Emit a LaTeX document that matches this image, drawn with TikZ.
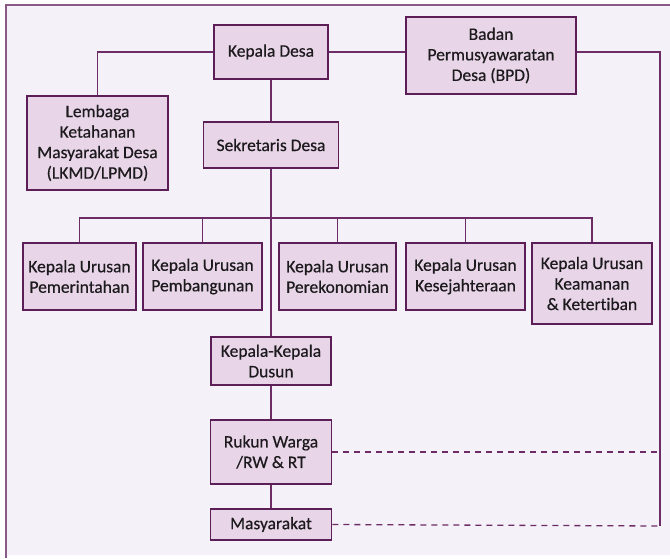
\documentclass[tikz,border=0pt]{standalone}
\usepackage{fontspec}
\setmainfont{Carlito}[Ligatures=NoCommon,FakeBold=0.5]
\usetikzlibrary{positioning}
\definecolor{bgc}{HTML}{F4F1F8}
\definecolor{boxfill}{HTML}{E8D5E8}
\definecolor{boxline}{HTML}{5C1E57}
\definecolor{conline}{HTML}{6E2C66}
\definecolor{frameline}{HTML}{8A5A86}
\definecolor{ink}{HTML}{1C1A1C}
\begin{document}
\begin{tikzpicture}[x=1pt,y=-1pt]
                    \tikzstyle{every node}+=[inner sep=0pt]
                    \tikzstyle{unit}=[draw=boxline,fill=boxfill,text=ink,line width=1.6pt,align=center,font=\fontsize{17.5}{20.5}\selectfont]
                    \tikzstyle{link}=[draw=conline,line width=1.3pt]
                    \useasboundingbox (0,0) rectangle (670,558);
                    \fill [bgc] (6,5) rectangle (670,555);
                    \draw [frameline, line width=1.8pt] (6,558) -- (6,5) -- (670,5);
                    \node [unit, minimum width=114pt, minimum height=54pt] (kd) at (271,52) {Kepala Desa};
                    \node [unit, minimum width=170pt, minimum height=77pt] (bpd) at (491,55.5) {Badan\\Permusyawaratan\\Desa (BPD)};
                    \node [unit, minimum width=141pt, minimum height=94pt] (lkmd) at (97.5,143) {Lembaga\\Ketahanan\\Masyarakat Desa\\(LKMD/LPMD)};
                    \node [unit, minimum width=135pt, minimum height=46pt] (sd) at (271,145) {Sekretaris Desa};
                    \node [unit, minimum width=113pt, minimum height=67pt] (ku1) at (79.5,276.5) {Kepala Urusan\\Pemerintahan};
                    \node [unit, minimum width=119pt, minimum height=67pt] (ku2) at (202.5,276.5) {Kepala Urusan\\Pembangunan};
                    \node [unit, minimum width=117pt, minimum height=67pt] (ku3) at (337.5,276.5) {Kepala Urusan\\Perekonomian};
                    \node [unit, minimum width=119pt, minimum height=67pt] (ku4) at (465.5,276.5) {Kepala Urusan\\Kesejahteraan};
                    \node [unit, minimum width=120pt, minimum height=81pt] (ku5) at (592,283.5) {Kepala Urusan\\Keamanan\\\& Ketertiban};
                    \node [unit, minimum width=120pt, minimum height=48pt] (kkd) at (271,361) {Kepala-Kepala\\Dusun};
                    \node [unit, minimum width=121pt, minimum height=64pt] (rw) at (271,452) {Rukun Warga\\/RW \& RT};
                    \node [unit, minimum width=121pt, minimum height=31pt] (mas) at (271,524.5) {Masyarakat};
                    \coordinate (bus) at (271,218);
                    \coordinate (cr) at (660,526);
                    \draw [link] (lkmd.north) |- (kd.west);
                    \draw [link] (kd.east) -- (kd.east -| bpd.west);
                    \draw [link] (kd.east -| bpd.east) -| (cr);
                    \draw [link] (kd.south) -- (sd.north);
                    \draw [link] (sd.south) -- (kkd.north);
                    \draw [link] (ku1.north) |- (bus) -| (ku5.north);
                    \draw [link] (ku2.north) -- (ku2.north |- bus);
                    \draw [link] (ku3.north) -- (ku3.north |- bus);
                    \draw [link] (ku4.north) -- (ku4.north |- bus);
                    \draw [link] (kkd.south) -- (rw.north);
                    \draw [link] (rw.south) -- (mas.north);
                    \draw [link, dash pattern=on 6pt off 5pt] (rw.east) -- (rw.east -| cr);
                    \draw [link, dash pattern=on 6pt off 5pt] (mas.east) -- (cr);
                \end{tikzpicture}
\end{document}
